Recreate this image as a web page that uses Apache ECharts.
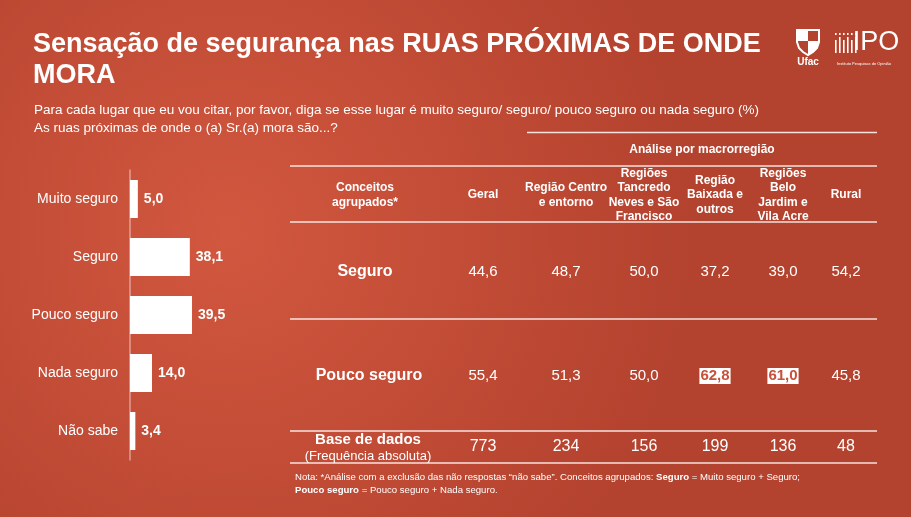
<!DOCTYPE html>
<html>
<head>
<meta charset="utf-8">
<script src="https://cdn.jsdelivr.net/npm/echarts@6/dist/echarts.min.js"></script>
<style>
  html, body { margin: 0; padding: 0; }
  #chart { width: 911px; height: 517px; }
</style>
</head>
<body>
<div id="chart"></div>
<script>
// dados do gráfico de barras (%)
const categorias = ['Muito seguro', 'Seguro', 'Pouco seguro', 'Nada seguro', 'Não sabe'];
const percentuais = [5.0, 38.1, 39.5, 14.0, 3.4];

// dados da tabela
const colunas = ['Geral', 'Região Centro\ne entorno', 'Regiões\nTancredo\nNeves e São\nFrancisco', 'Região\nBaixada e\noutros', 'Regiões\nBelo\nJardim e\nVila Acre', 'Rural'];
const seguroAgrupado = [44.6, 48.7, 50.0, 37.2, 39.0, 54.2];
const poucoSeguroAgrupado = [55.4, 51.3, 50.0, 62.8, 61.0, 45.8];
const baseDados = [773, 234, 156, 199, 136, 48];
const destaquePoucoSeguro = [false, false, false, true, true, false];

const fmt = v => v.toFixed(1).replace('.', ',');
const FONT = 'Liberation Sans, Arial, sans-serif';
const RED = '#c9503a';

// posições das colunas da tabela (layout)
const colX = [483, 566, 644, 715, 783, 846];
const labelX = 367;

const myChart = echarts.init(document.getElementById('chart'));

const graphics = [];
// fundo
graphics.push({
  type: 'rect', z: -10, silent: true,
  shape: { x: 0, y: 0, width: 911, height: 517 },
  style: {
    fill: new echarts.graphic.RadialGradient(0.25, 0.45, 0.9, [
      { offset: 0, color: '#d2573f' },
      { offset: 1, color: '#b3422e' }
    ])
  }
});

// linhas da tabela
const linha = (x1, x2, y) => ({
  type: 'line', silent: true,
  shape: { x1, y1: y, x2, y2: y },
  style: { stroke: 'rgba(255,255,255,0.85)', lineWidth: 1.5 }
});
graphics.push(linha(527, 877, 132.5));
[166, 222, 319, 431, 463].forEach(y => graphics.push(linha(290, 877, y)));

const texto = (x, y, text, extra) => ({
  type: 'text', x, y, silent: true,
  style: Object.assign({
    text, fill: '#fff', font: '13px ' + FONT, align: 'center', verticalAlign: 'middle'
  }, extra || {})
});

// cabeçalho
graphics.push(texto(702, 150, 'Análise por macrorregião', { font: 'bold 12px ' + FONT }));
graphics.push(texto(labelX - 2, 195, 'Conceitos\nagrupados*', { font: 'bold 12px ' + FONT, lineHeight: 14.5 }));
colunas.forEach((c, i) => {
  graphics.push(texto(colX[i], 195, c, { font: 'bold 12px ' + FONT, lineHeight: 14.5 }));
});

// linhas de valores
graphics.push(texto(labelX - 2, 272, 'Seguro', { font: 'bold 16px ' + FONT }));
seguroAgrupado.forEach((v, i) => graphics.push(texto(colX[i], 272, fmt(v), { font: '15px ' + FONT })));

graphics.push(texto(labelX + 2, 376, 'Pouco seguro', { font: 'bold 16px ' + FONT }));
poucoSeguroAgrupado.forEach((v, i) => {
  if (destaquePoucoSeguro[i]) {
    graphics.push(texto(colX[i], 376, fmt(v), {
      font: 'bold 15px ' + FONT, fill: RED,
      backgroundColor: '#fff', padding: [1, 1, 0, 1]
    }));
  } else {
    graphics.push(texto(colX[i], 376, fmt(v), { font: '15px ' + FONT }));
  }
});

graphics.push(texto(labelX + 1, 440, 'Base de dados', { font: 'bold 15px ' + FONT }));
graphics.push(texto(labelX + 1, 456, '(Frequência absoluta)', { font: '13px ' + FONT }));
baseDados.forEach((v, i) => graphics.push(texto(colX[i], 447, String(v), { font: '16px ' + FONT })));

// nota
graphics.push({
  type: 'text', x: 295, y: 471, silent: true,
  style: {
    text: 'Nota: *Análise com a exclusão das não respostas “não sabe”. Conceitos agrupados: {b|Seguro} = Muito seguro + Seguro;\n{b|Pouco seguro} = Pouco seguro + Nada seguro.',
    fill: '#fff', font: '9.6px ' + FONT, lineHeight: 13,
    rich: { b: { fontWeight: 'bold', fontSize: 9.6, fill: '#fff' } }
  }
});

// logo Ufac
graphics.push({
  type: 'group', x: 797, y: 30, silent: true,
  children: [
    { type: 'polygon', shape: { points: [[0, 0], [22, 0], [22, 12], [20, 18], [16, 22], [11, 25], [6, 22], [2, 18], [0, 12]] },
      style: { fill: 'none', stroke: '#fff', lineWidth: 2 } },
    { type: 'rect', shape: { x: 0, y: 0, width: 11, height: 11 }, style: { fill: '#fff' } },
    { type: 'polygon', shape: { points: [[11, 11], [22, 11], [22, 12], [20, 18], [16, 22], [11, 25]] }, style: { fill: '#fff' } }
  ]
});
graphics.push(texto(808, 62, 'Ufac', { font: 'bold 10px ' + FONT }));

// logo IPO
const barras = [];
[0, 4, 8, 12, 16, 20].forEach((dx, k) => {
  barras.push({ type: 'rect', shape: { x: dx, y: k % 2 ? 6 : 9, width: 1.6, height: k % 2 ? 16 : 13 }, style: { fill: '#fff' } });
  barras.push({ type: 'rect', shape: { x: dx, y: 2, width: 1.6, height: 2 }, style: { fill: '#fff' } });
});
graphics.push({ type: 'group', x: 835, y: 31, silent: true, children: barras });
graphics.push(texto(876, 43, 'IPO', { font: '27px ' + FONT }));
graphics.push(texto(864, 64, 'Instituto Pesquisas de Opinião', { font: '4px ' + FONT }));

const option = {
  animation: false,
  title: [
    {
      text: 'Sensação de segurança nas RUAS PRÓXIMAS DE ONDE\nMORA',
      left: 28, top: 24,
      textStyle: { color: '#fff', fontFamily: FONT, fontWeight: 'bold', fontSize: 27, lineHeight: 31 }
    },
    {
      text: 'Para cada lugar que eu vou citar, por favor, diga se esse lugar é muito seguro/ seguro/ pouco seguro ou nada seguro (%)\nAs ruas próximas de onde o (a) Sr.(a) mora são...?',
      left: 29, top: 96,
      textStyle: { color: '#fff', fontFamily: FONT, fontWeight: 'normal', fontSize: 13.5, lineHeight: 18 }
    }
  ],
  grid: { left: 130, top: 170, width: 157, height: 290 },
  xAxis: { type: 'value', min: 0, max: 100, show: false },
  yAxis: {
    type: 'category',
    data: categorias,
    inverse: true,
    axisTick: { show: false },
    axisLine: { lineStyle: { color: 'rgba(255,255,255,0.45)', width: 1.5 } },
    axisLabel: { color: '#fff', fontFamily: FONT, fontSize: 14, margin: 12 }
  },
  series: [
    {
      type: 'bar',
      data: percentuais,
      barWidth: 38,
      itemStyle: { color: '#fff' },
      label: {
        show: true, position: 'right', distance: 6,
        color: '#fff', fontFamily: FONT, fontWeight: 'bold', fontSize: 14,
        formatter: p => fmt(p.value)
      }
    }
  ],
  graphic: graphics
};

myChart.setOption(option);
</script>
</body>
</html>
